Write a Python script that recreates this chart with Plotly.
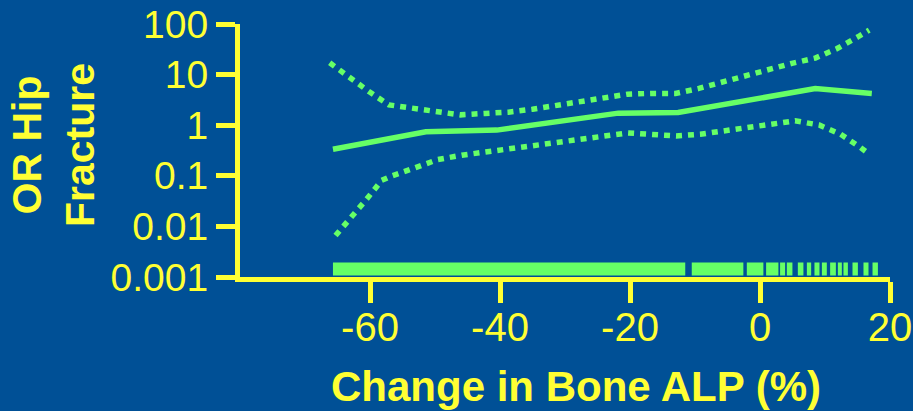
import plotly.graph_objects as go

# ---- data ----
x_main = [-65.7, -51.4, -40.5, -21.8, -12.6, 8.5, 17.2]
or_main = [0.335, 0.74, 0.80, 1.73, 1.78, 5.3, 4.25]

x_upper = [-66.2, -63.1, -60.1, -57.1, -53.4, -49.8, -46.1, -42.3, -38.7, -35.0,
           -31.3, -27.7, -24.0, -20.4, -16.7, -13.0, -9.4, -5.8, -2.2, 1.2,
           4.9, 8.5, 11.8, 15.1, 16.8]
or_upper = [17.1, 8.6, 4.56, 2.52, 2.14, 1.81, 1.60, 1.71, 1.81, 2.07,
            2.45, 2.99, 3.54, 4.11, 4.25, 4.25, 5.33, 7.1, 9.5, 12.8,
            16.7, 21.2, 32.4, 56, 76]

x_lower = [-65.3, -62.8, -60.5, -58.2, -56.5, -53.0, -49.6, -45.9, -42.2, -38.5,
           -34.9, -31.2, -27.5, -23.9, -20.3, -16.6, -12.9, -9.2, -5.5, -1.9,
           1.8, 5.4, 9.1, 12.4, 15.4, 16.7]
or_lower = [0.0066, 0.0151, 0.0348, 0.0815, 0.101, 0.145, 0.209, 0.255, 0.296, 0.346,
            0.396, 0.467, 0.553, 0.643, 0.705, 0.655, 0.614, 0.663, 0.785, 0.925,
            1.10, 1.22, 1.01, 0.663, 0.367, 0.275]

# rug (observations) as intervals of change in bone ALP (%)
rug_start = [-65.7, -10.5, -2.03, 0.94, 3.09, 4.13, 5.82, 7.21, 8.38, 9.52,
             10.79, 11.98, 12.84, 14.23, 15.92, 17.31]
rug_end = [-11.5, -2.56, 0.52, 2.83, 3.86, 4.99, 6.68, 7.87, 9.15, 10.28,
           11.67, 12.59, 13.52, 15.06, 16.69, 18.14]
rug_bottom = 0.00107
rug_top = 0.00194

x_ticks = [-60, -40, -20, 0, 20]
x_tick_labels = ["-60", "-40", "-20", "0", "20"]
y_ticks = [0.001, 0.01, 0.1, 1, 10, 100]
y_tick_labels = ["0.001", "0.01", "0.1", "1", "10", "100"]

# ---- style ----
BG = "#005096"
GREEN = "#66FF66"
YELLOW = "#FFFF33"
FONT = "Liberation Sans, Arial, sans-serif"

rx, ry = [], []
for a, b in zip(rug_start, rug_end):
    rx += [a, b, b, a, a, None]
    ry += [rug_bottom, rug_bottom, rug_top, rug_top, rug_bottom, None]

fig = go.Figure()
fig.add_trace(go.Scatter(x=rx, y=ry, mode="lines", fill="toself", fillcolor=GREEN,
                         line=dict(width=0, color=GREEN), hoverinfo="skip", showlegend=False))
fig.add_trace(go.Scatter(x=x_upper, y=or_upper, mode="lines",
                         line=dict(color=GREEN, width=5.5, dash="6px,6px"), showlegend=False))
fig.add_trace(go.Scatter(x=x_lower, y=or_lower, mode="lines",
                         line=dict(color=GREEN, width=5.5, dash="6px,6px"), showlegend=False))
fig.add_trace(go.Scatter(x=x_main, y=or_main, mode="lines",
                         line=dict(color=GREEN, width=5.5), showlegend=False))

fig.update_layout(
    width=913, height=411,
    paper_bgcolor=BG, plot_bgcolor=BG,
    margin=dict(l=240, r=23, t=24, b=134, autoexpand=False),
    font=dict(family=FONT, color=YELLOW),
    xaxis=dict(range=[-80, 20], tickvals=x_ticks, ticktext=x_tick_labels, automargin=False,
               ticks="outside", ticklen=21, tickwidth=5, ticklabelstandoff=-10,
               tickcolor=YELLOW, showline=True, linecolor=YELLOW, linewidth=5,
               showgrid=False, zeroline=False, tickfont=dict(size=40, color=YELLOW, family=FONT)),
    yaxis=dict(type="log", range=[-3, 2], tickvals=y_ticks, ticktext=y_tick_labels,
               automargin=False,
               ticks="outside", ticklen=19, tickwidth=5, tickcolor=YELLOW,
               showline=True, linecolor=YELLOW, linewidth=5, showgrid=False, zeroline=False,
               tickfont=dict(size=39, color=YELLOW, family=FONT)),
    annotations=[
        dict(text="<b>Change in Bone ALP (%)</b>", xref="paper", yref="paper",
             x=0.517, y=-0.431, xanchor="center", yanchor="middle", showarrow=False,
             font=dict(size=42, color=YELLOW, family=FONT)),
        dict(text="<b>OR Hip<br>Fracture</b>", xref="paper", yref="paper",
             x=-0.286, y=0.522, xanchor="center", yanchor="middle", showarrow=False,
             textangle=-90, font=dict(size=41, color=YELLOW, family=FONT)),
    ],
)

fig.write_html("out.html", config={"displayModeBar": False},
               post_script="document.body.style.margin='0';document.body.style.background='" + BG + "';")
